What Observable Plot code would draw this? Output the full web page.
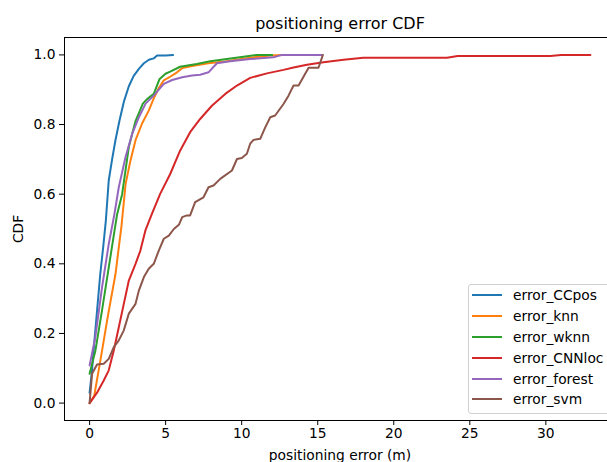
<!DOCTYPE html>
<html><head><meta charset="utf-8">
<script src="https://cdn.jsdelivr.net/npm/d3@7"></script>
<script src="https://cdn.jsdelivr.net/npm/@observablehq/plot@0.6"></script>
<style>
html,body{margin:0;padding:0;background:#fff;overflow:hidden}
#wrap{position:relative;width:607px;height:462px;overflow:hidden}
.legend{position:absolute;left:468px;top:284px;width:150px;height:130px;border:1px solid #d0d0d0;border-radius:3px;background:rgba(255,255,255,0.8);box-sizing:border-box;font:13.8px "DejaVu Sans";color:#000;padding-top:0px}
.row{display:flex;align-items:center;height:20.8px;white-space:nowrap}
.sw{width:30px;height:2px;margin-left:3px;margin-right:11px;flex:none}
</style></head>
<body><div id="wrap"></div>
<script>
const title = "positioning error CDF";
const xLabel = "positioning error (m)";
const yLabel = "CDF";
const names = ["error_CCpos", "error_knn", "error_wknn", "error_CNNloc", "error_forest", "error_svm"];
const colors = ["#1f77b4", "#ff7f0e", "#2ca02c", "#d62728", "#9467bd", "#8c564b"];
const xTicks = [0, 5, 10, 15, 20, 25, 30];
const yTicks = [0, 0.2, 0.4, 0.6, 0.8, 1.0];

const ccposX = [0, 0.15, 0.3, 0.5, 0.7, 0.9, 1.07, 1.26, 1.48, 1.7, 1.96, 2.25, 2.58, 2.9, 3.24, 3.57, 3.9, 4.22, 4.44, 5.0, 5.49];
const ccposY = [0.03, 0.09, 0.17, 0.27, 0.37, 0.45, 0.525, 0.64, 0.70, 0.755, 0.81, 0.865, 0.91, 0.94, 0.96, 0.976, 0.986, 0.99, 0.998, 0.998, 1.0];

const knnX = [0, 0.3, 0.7, 1.2, 1.7, 2.1, 2.37, 2.69, 3.02, 3.45, 3.89, 4.22, 4.55, 4.88, 5.32, 5.75, 6.09, 6.83, 7.81, 9.02, 10.56, 11.88, 12.75];
const knnY = [0, 0.02, 0.12, 0.25, 0.37, 0.51, 0.63, 0.697, 0.755, 0.803, 0.84, 0.875, 0.905, 0.927, 0.938, 0.95, 0.962, 0.969, 0.976, 0.982, 0.992, 0.998, 1.0];

const wknnX = [0, 0.38, 0.82, 1.26, 1.8, 2.14, 2.58, 3.02, 3.5, 3.78, 4.22, 4.59, 4.99, 5.3, 5.95, 7.05, 7.93, 9.02, 10.12, 11.0, 12.0];
const wknnY = [0.084, 0.15, 0.267, 0.39, 0.54, 0.60, 0.736, 0.81, 0.86, 0.873, 0.888, 0.93, 0.946, 0.952, 0.966, 0.974, 0.982, 0.988, 0.995, 1.0, 1.0];

const cnnX = [0, 0.49, 0.93, 1.26, 1.59, 1.92, 2.25, 2.58, 3.02, 3.34, 3.67, 4.11, 4.64, 5.3, 5.95, 6.61, 7.27, 8.04, 8.92, 9.69, 10.56, 11.66, 12.75, 13.41, 14.29, 15.38, 16.7, 18.0, 23.5, 24.2, 30.3, 31.0, 32.93];
const cnnY = [0, 0.03, 0.065, 0.094, 0.151, 0.218, 0.285, 0.352, 0.40, 0.438, 0.496, 0.545, 0.601, 0.658, 0.725, 0.778, 0.816, 0.854, 0.888, 0.912, 0.934, 0.947, 0.957, 0.964, 0.972, 0.979, 0.986, 0.992, 0.992, 0.997, 0.997, 1.0, 1.0];

const forestX = [0, 0.38, 0.82, 1.26, 1.62, 1.92, 2.36, 2.8, 3.24, 3.68, 4.22, 4.55, 4.88, 5.43, 6.09, 6.74, 7.27, 7.82, 8.37, 9.24, 10.56, 12.09, 12.64, 15.27];
const forestY = [0.108, 0.19, 0.333, 0.457, 0.54, 0.62, 0.706, 0.773, 0.821, 0.86, 0.883, 0.9, 0.917, 0.928, 0.936, 0.941, 0.943, 0.95, 0.976, 0.982, 0.988, 0.993, 1.0, 1.0];

const svmX = [0, 0.16, 0.49, 0.93, 1.26, 1.59, 1.92, 2.25, 2.58, 3.02, 3.24, 3.57, 3.89, 4.22, 4.55, 4.88, 5.21, 5.54, 5.87, 6.09, 6.4, 6.61, 6.94, 7.49, 7.82, 8.15, 8.59, 9.36, 9.69, 10.01, 10.34, 10.56, 10.78, 11.22, 11.55, 11.88, 12.2, 12.75, 13.08, 13.41, 13.74, 14.4, 15.05, 15.34];
const svmY = [0, 0.084, 0.111, 0.113, 0.127, 0.161, 0.18, 0.209, 0.257, 0.285, 0.323, 0.362, 0.386, 0.4, 0.438, 0.472, 0.481, 0.5, 0.512, 0.534, 0.539, 0.539, 0.577, 0.591, 0.62, 0.625, 0.644, 0.668, 0.701, 0.704, 0.716, 0.745, 0.756, 0.759, 0.792, 0.821, 0.826, 0.859, 0.883, 0.912, 0.912, 0.963, 0.963, 1.0];

const seriesX = [ccposX, knnX, wknnX, cnnX, forestX, svmX];
const seriesY = [ccposY, knnY, wknnY, cnnY, forestY, svmY];

const rows = [];
names.forEach((name, i) => {
  seriesX[i].forEach((x, j) => rows.push({name, x, y: seriesY[i][j]}));
});

const plot = Plot.plot({
  width: 607,
  height: 462,
  marginLeft: 64,
  marginRight: -8,
  marginTop: 37,
  marginBottom: 42,
  style: {fontFamily: "DejaVu Sans", fontSize: "13.8px", color: "#000", background: "#fff", overflow: "hidden"},
  x: {domain: [-1.65, 34.58], ticks: xTicks, tickFormat: d => String(d), tickSize: 5, tickPadding: 3, label: xLabel, labelAnchor: "center", labelArrow: "none", labelOffset: 39},
  y: {domain: [-0.05, 1.05], ticks: yTicks, tickFormat: d3.format(".1f"), tickSize: 5, tickPadding: 4, label: yLabel, labelAnchor: "center", labelArrow: "none", labelOffset: 51},
  color: {domain: names, range: colors},
  marks: [
    Plot.frame({stroke: "#000", strokeWidth: 1}),
    Plot.line(rows, {x: "x", y: "y", z: "name", stroke: "name", strokeWidth: 2, strokeLinejoin: "round"}),
    Plot.text([title], {text: d => d, frameAnchor: "top", lineAnchor: "bottom", dy: -9, fontSize: 16})
  ]
});

const wrap = document.getElementById("wrap");
wrap.appendChild(plot);

const legend = document.createElement("div");
legend.className = "legend";
names.forEach((name, i) => {
  const row = document.createElement("div");
  row.className = "row";
  const sw = document.createElement("div");
  sw.className = "sw";
  sw.style.background = colors[i];
  const label = document.createElement("span");
  label.textContent = name;
  row.appendChild(sw);
  row.appendChild(label);
  legend.appendChild(row);
});
wrap.appendChild(legend);
</script>
</body></html>
